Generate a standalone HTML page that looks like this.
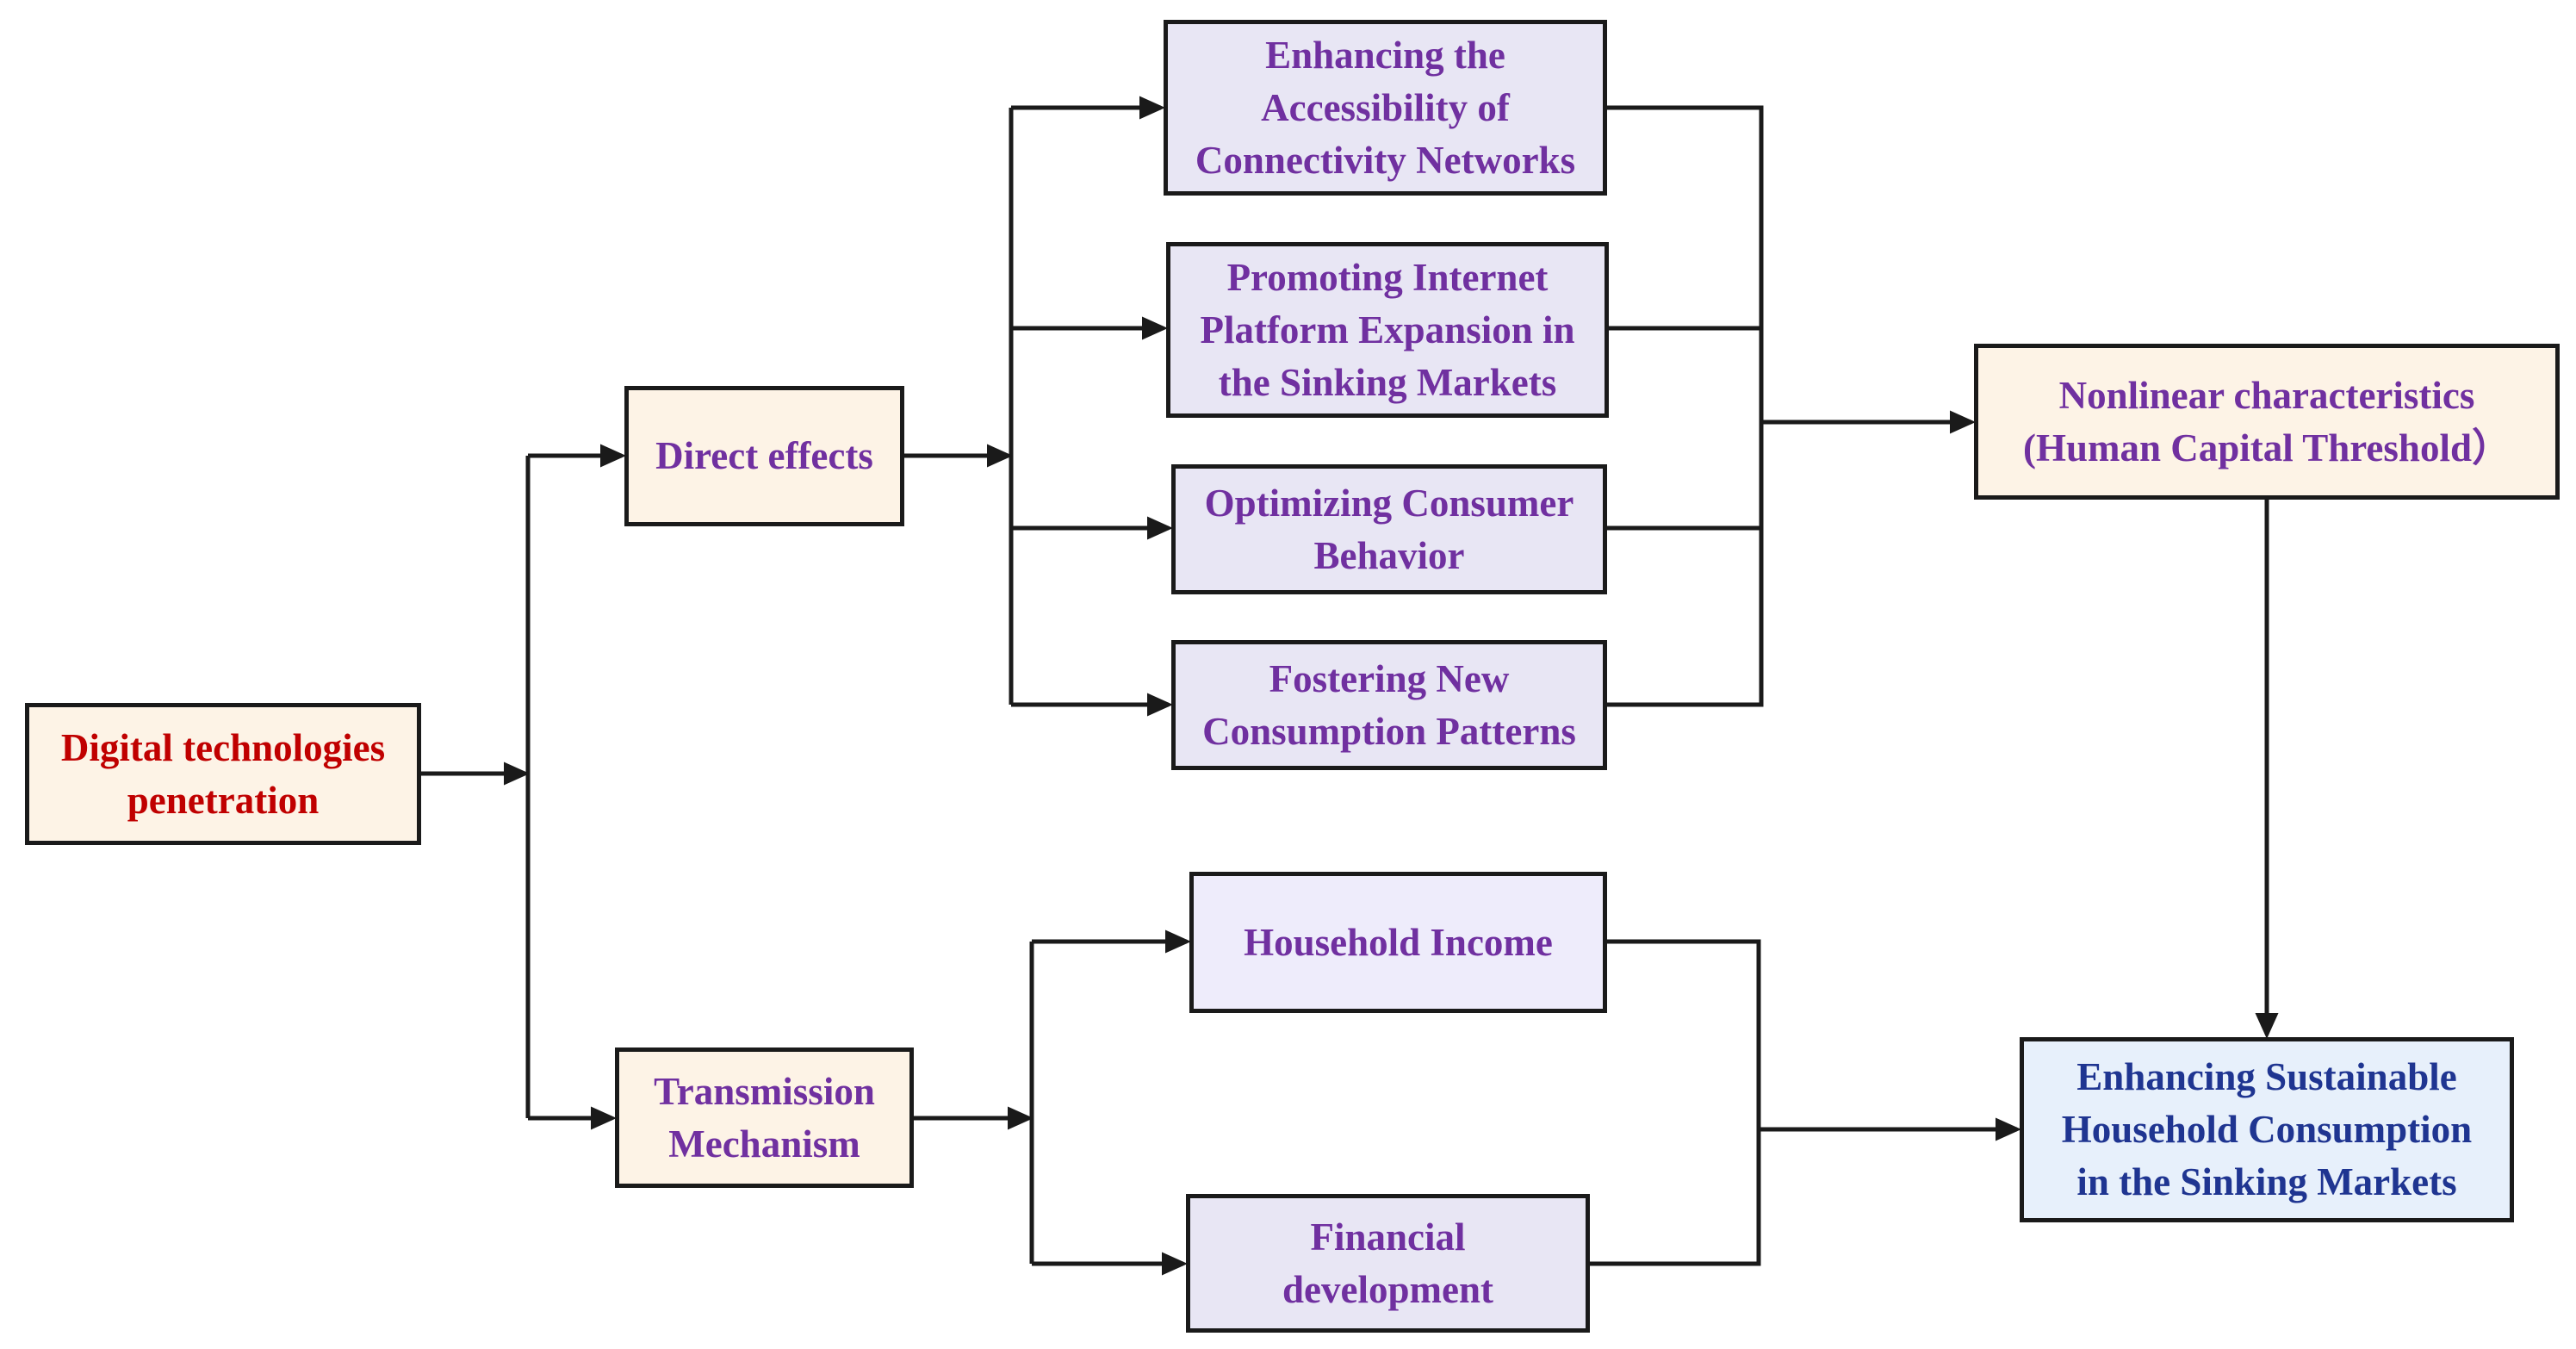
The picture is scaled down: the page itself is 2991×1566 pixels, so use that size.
<!DOCTYPE html>
<html><head><meta charset="utf-8"><style>
body{margin:0;background:#fff;}
#c{position:relative;width:2991px;height:1566px;overflow:hidden;background:#fff;}
.b{position:absolute;box-sizing:border-box;border:5px solid #1a1a1a;display:flex;align-items:center;justify-content:center;text-align:center;font-family:"Liberation Serif",serif;font-weight:bold;font-size:45px;line-height:61px;color:#7030a0;}
.p{background:#fdf3e6;}
.l{background:#e8e6f4;}
.bl{background:#e7f0fb;color:#1f3591;}
svg{position:absolute;left:0;top:0;}
</style></head><body><div id="c">
<svg width="2991" height="1566" viewBox="0 0 2991 1566">
<defs><marker id="a" markerWidth="6" markerHeight="6" refX="5" refY="3" orient="auto" markerUnits="strokeWidth"><path d="M0,0.3 L6,3 L0,5.7z" fill="#1a1a1a"/></marker></defs>
<g stroke="#1a1a1a" stroke-width="5" fill="none">
<line x1="488" y1="898" x2="610" y2="898" marker-end="url(#a)"/>
<line x1="613" y1="529" x2="613" y2="1298"/>
<line x1="613" y1="529" x2="722" y2="529" marker-end="url(#a)"/>
<line x1="613" y1="1298" x2="711" y2="1298" marker-end="url(#a)"/>
<line x1="1049" y1="529" x2="1171" y2="529" marker-end="url(#a)"/>
<line x1="1174" y1="125" x2="1174" y2="818"/>
<line x1="1174" y1="125" x2="1348" y2="125" marker-end="url(#a)"/>
<line x1="1174" y1="381" x2="1351" y2="381" marker-end="url(#a)"/>
<line x1="1174" y1="613" x2="1357" y2="613" marker-end="url(#a)"/>
<line x1="1174" y1="818" x2="1357" y2="818" marker-end="url(#a)"/>
<line x1="1060" y1="1298" x2="1195" y2="1298" marker-end="url(#a)"/>
<line x1="1198" y1="1093" x2="1198" y2="1467"/>
<line x1="1198" y1="1093" x2="1378" y2="1093" marker-end="url(#a)"/>
<line x1="1198" y1="1467" x2="1374" y2="1467" marker-end="url(#a)"/>
<polyline points="1865,125 2045,125 2045,818 1865,818"/>
<line x1="1867" y1="381" x2="2045" y2="381"/>
<line x1="1865" y1="613" x2="2045" y2="613"/>
<line x1="2045" y1="490" x2="2289" y2="490" marker-end="url(#a)"/>
<line x1="2632" y1="578" x2="2632" y2="1201" marker-end="url(#a)"/>
<polyline points="1865,1093 2042,1093 2042,1467 1845,1467"/>
<line x1="2042" y1="1311" x2="2342" y2="1311" marker-end="url(#a)"/>
</g></svg>
<div class="b p" style="left:29px;top:816px;width:460px;height:165px;color:#c00000;">Digital technologies<br>penetration</div>
<div class="b p" style="left:725px;top:448px;width:325px;height:163px;">Direct effects</div>
<div class="b p" style="left:714px;top:1216px;width:347px;height:163px;">Transmission<br>Mechanism</div>
<div class="b l" style="left:1351px;top:23px;width:515px;height:204px;">Enhancing the<br>Accessibility of<br>Connectivity Networks</div>
<div class="b l" style="left:1354px;top:281px;width:514px;height:204px;">Promoting Internet<br>Platform Expansion in<br>the Sinking Markets</div>
<div class="b l" style="left:1360px;top:539px;width:506px;height:151px;">Optimizing Consumer<br>Behavior</div>
<div class="b l" style="left:1360px;top:743px;width:506px;height:151px;">Fostering New<br>Consumption Patterns</div>
<div class="b l" style="left:1381px;top:1012px;width:485px;height:164px;background:#eeecfb;">Household Income</div>
<div class="b l" style="left:1377px;top:1386px;width:469px;height:161px;">Financial<br>development</div>
<div class="b p" style="left:2292px;top:399px;width:680px;height:181px;">Nonlinear characteristics<br>(Human Capital Threshold）</div>
<div class="b bl" style="left:2345px;top:1204px;width:574px;height:215px;">Enhancing Sustainable<br>Household Consumption<br>in the Sinking Markets</div>
</div></body></html>
